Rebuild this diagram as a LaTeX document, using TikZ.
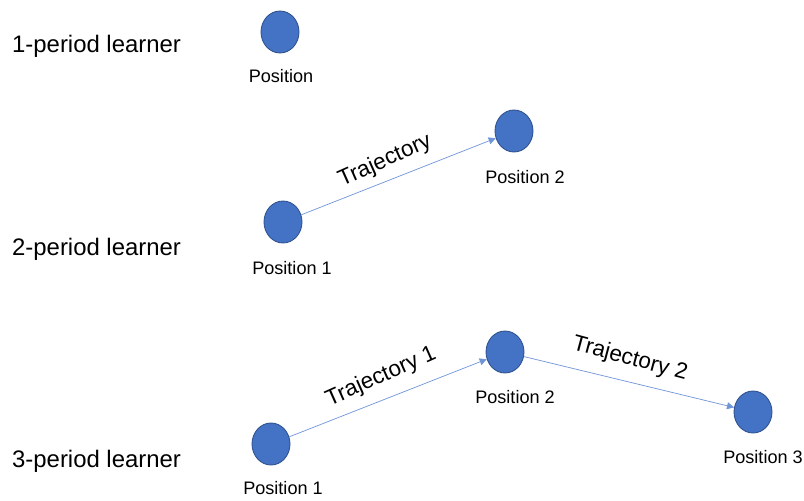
\documentclass[tikz,border=0pt]{standalone}
\usepackage{fontspec}
\setmainfont{Liberation Sans}
\usetikzlibrary{shapes.geometric,arrows.meta}
\definecolor{dotfill}{HTML}{4472C4}
\definecolor{dotline}{HTML}{2F528F}
\definecolor{trajline}{HTML}{6F95D8}
\tikzset{
  dot/.style={ellipse, draw=dotline, fill=dotfill, line width=0.5pt,
    minimum width=0.76cm, minimum height=0.84cm, inner sep=0pt},
  learner/.style={anchor=west, font=\fontsize{13.6}{16}\selectfont},
  poslabel/.style={font=\fontsize{10.3}{12}\selectfont},
  trajlabel/.style={font=\fontsize{12.8}{15}\selectfont},
  traj/.style={draw=trajline, line width=0.4pt, -{Triangle[length=4pt,width=4pt]}}
}
\begin{document}
\begin{tikzpicture}[x=0.02cm, y=-0.02cm]
    \useasboundingbox (0,0) rectangle (804,500);

    % 1-period learner
    \node[learner] (l1) at (6,46) {1-period learner};
    \node[dot] (a1) at (280,32) {};
    \node[poslabel] (a1t) at (281,76) {Position};

    % 2-period learner
    \node[learner] (l2) at (6,249) {2-period learner};
    \node[dot] (b1) at (283,222) {};
    \node[dot] (b2) at (514,131) {};
    \node[poslabel] (b1t) at (292,268) {Position 1};
    \node[poslabel] (b2t) at (525,177) {Position 2};
    \draw[traj] (b1) -- (b2);
    \node[trajlabel, rotate=24] (bt) at (385,161) {Trajectory};

    % 3-period learner
    \node[learner] (l3) at (6,461) {3-period learner};
    \node[dot] (c1) at (271,444) {};
    \node[dot] (c2) at (505,352) {};
    \node[dot] (c3) at (753,412) {};
    \node[poslabel] (c1t) at (283,488) {Position 1};
    \node[poslabel] (c2t) at (515,397) {Position 2};
    \node[poslabel] (c3t) at (763,457) {Position 3};
    \draw[traj] (c1) -- (c2);
    \draw[traj] (c2) -- (c3);
    \node[trajlabel, rotate=24] (ct1) at (381,377) {Trajectory 1};
    \node[trajlabel, rotate=-15] (ct2) at (630,359) {Trajectory 2};
\end{tikzpicture}
\end{document}
